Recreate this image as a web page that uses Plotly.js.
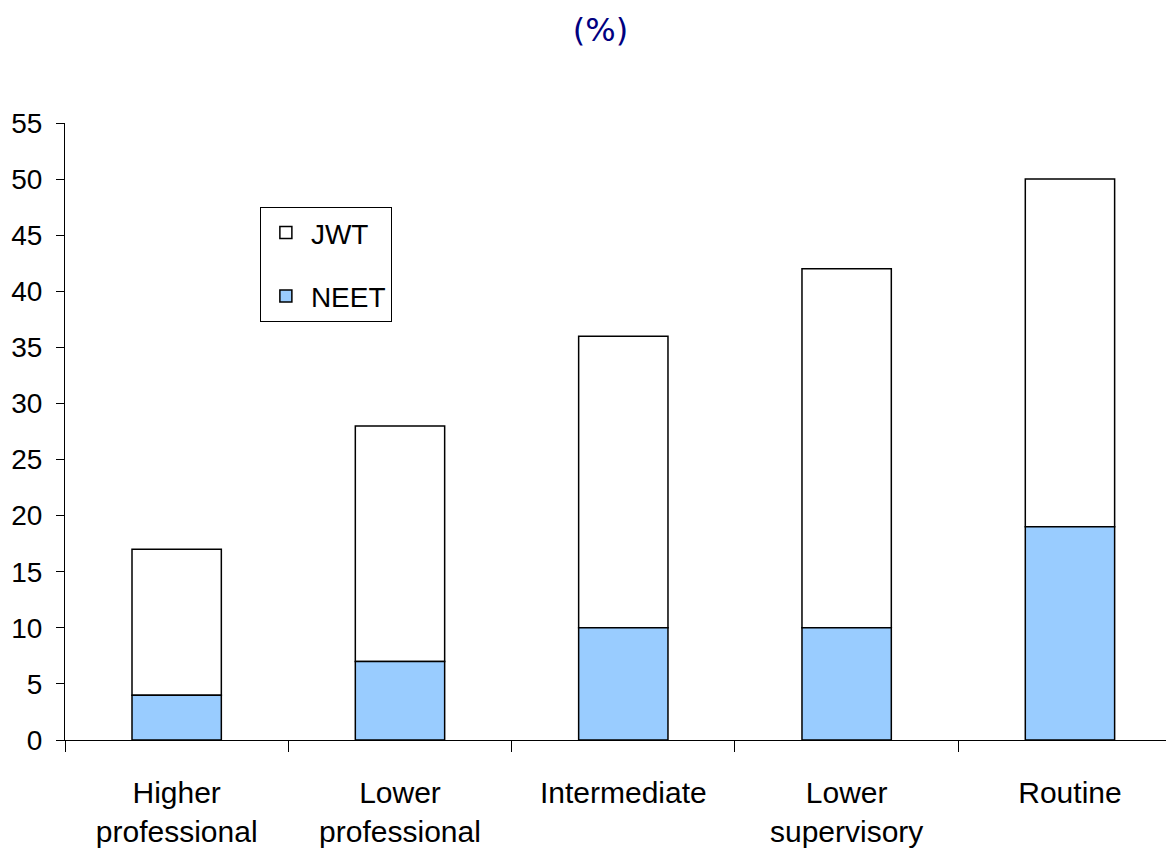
<!DOCTYPE html>
<html>
<head>
<meta charset="utf-8">
<script src="https://cdn.plot.ly/plotly-3.0.1.min.js"></script>
<style>html,body{margin:0;padding:0;background:#fff;}#chart{width:1166px;height:856px;}</style>
</head>
<body>
<div id="chart"></div>
<script>
const categories = ["Higher<br>professional", "Lower<br>professional", "Intermediate", "Lower<br>supervisory", "Routine"];
const neet = [4, 7, 10, 10, 19];
const jwt = [13, 21, 26, 32, 31];
const yTicks = [0, 5, 10, 15, 20, 25, 30, 35, 40, 45, 50, 55];

const font = {family: "Liberation Sans, Arial, sans-serif", color: "#000"};

const traces = [
  {type: "bar", name: "JWT", x: categories, y: jwt, base: neet, width: 0.4,
   marker: {color: "#FFFFFF", line: {color: "#000", width: 1.5}}, legendgroup: "a"},
  {type: "bar", name: "NEET", x: categories, y: neet, width: 0.4,
   marker: {color: "#99CCFF", line: {color: "#000", width: 1.5}}, legendgroup: "b"}
];

const layout = {
  width: 1166, height: 856,
  paper_bgcolor: "#fff", plot_bgcolor: "#fff",
  margin: {l: 65, r: 0, t: 123, b: 116},
  barmode: "overlay",
  title: {text: "(%)", x: 0.515, xref: "container", y: 0.978, yref: "container", yanchor: "top",
          font: {family: "DejaVu Sans, sans-serif", size: 32, color: "#000080"}},
  xaxis: {type: "category", range: [-0.5, 4.43], tickson: "boundaries", ticks: "outside", ticklen: 11,
          tickcolor: "#000", showline: true, linecolor: "#000", linewidth: 1, showgrid: false,
          ticklabelstandoff: 26,
          tickfont: {...font, size: 30}, fixedrange: true},
  yaxis: {range: [0, 55], tickvals: yTicks, ticks: "outside", ticklen: 8, tickcolor: "#000",
          showline: true, linecolor: "#000", linewidth: 1, showgrid: false, zeroline: false,
          ticklabelstandoff: 8,
          tickfont: {...font, size: 28}, fixedrange: true},
  showlegend: true,
  legend: {x: 0.177, y: 0.864, xanchor: "left", yanchor: "top", bgcolor: "#fff",
           bordercolor: "#000", borderwidth: 1, traceorder: "grouped", tracegroupgap: 24,
           font: {...font, size: 28}, itemwidth: 40}
};

Plotly.newPlot("chart", traces, layout, {displayModeBar: false, staticPlot: true});
</script>
</body>
</html>
